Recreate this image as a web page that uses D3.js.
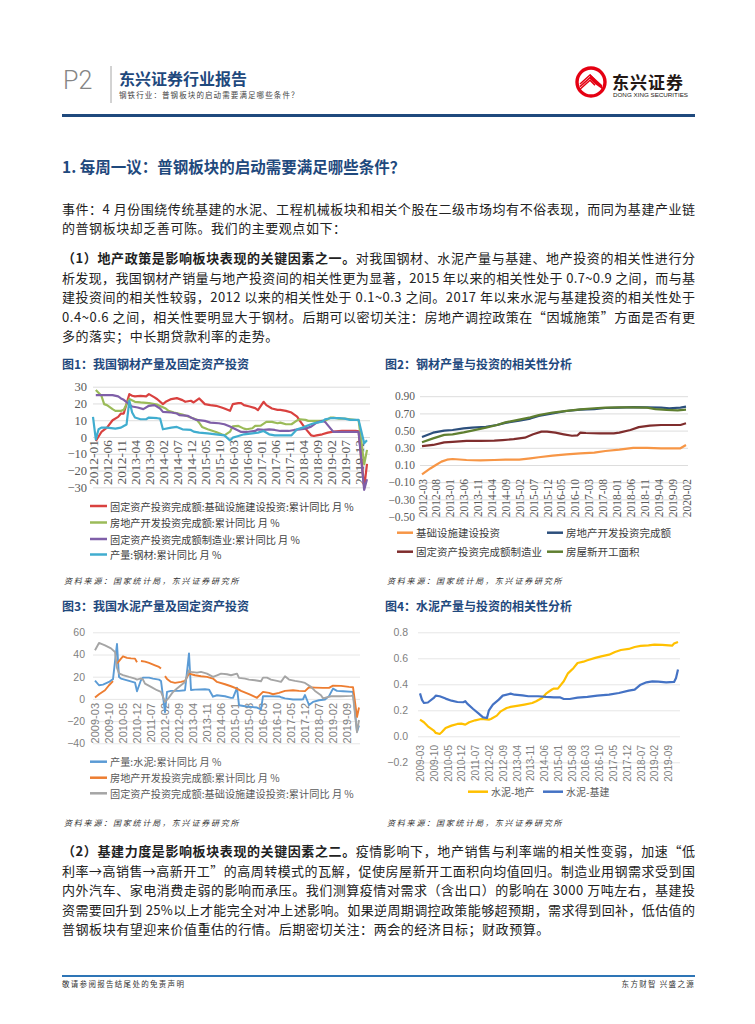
<!DOCTYPE html>
<html>
<head>
<meta charset="utf-8">
<script src="https://cdnjs.cloudflare.com/ajax/libs/d3/7.8.5/d3.min.js"></script>
<style>
  body { margin: 0; background: #fff; }
  svg { display: block; }
</style>
</head>
<body>
<svg id="page" width="755" height="1024"></svg>
<script>
// ---------- data ----------
const ticks1 = ["2012-01","2012-06","2012-11","2013-04","2013-09","2014-02","2014-07","2014-12","2015-05","2015-10","2016-03","2016-08","2017-01","2017-06","2017-11","2018-04","2018-09","2019-02","2019-07","2019-12"];
const ticks2 = ["2012-03","2012-08","2013-01","2013-06","2013-11","2014-04","2014-09","2015-02","2015-07","2015-12","2016-05","2016-10","2017-03","2017-08","2018-01","2018-06","2018-11","2019-04","2019-09","2020-02"];
const ticks3 = ["2009-03","2009-10","2010-05","2010-12","2011-07","2012-02","2012-09","2013-04","2013-11","2014-06","2015-01","2015-08","2016-03","2016-10","2017-05","2017-12","2018-07","2019-02","2019-09"];
const ticks4 = ticks3;

// 图1
const c1Infra = [["2012-02",-2.4],["2012-04",3],["2012-06",5.6],["2012-08",10],["2012-10",12],["2012-11",14],["2012-12",14],
  ["2013-02",25.6],["2013-03",24.6],["2013-04",24.2],["2013-06",24.5],["2013-08",24.2],["2013-09",25.6],["2013-11",23.6],["2013-12",22.5],
  ["2014-02",19.6],["2014-03",21],["2014-05",22.6],["2014-07",23.2],["2014-09",22],["2014-10",21],["2014-12",21.6],
  ["2015-01",20.6],["2015-03",23],["2015-05",19.6],["2015-07",19],["2015-09",18.6],["2015-11",17.6],["2015-12",17],
  ["2016-02",15.6],["2016-03",19.6],["2016-05",20.2],["2016-06",20.2],["2016-07",19],["2016-09",18.2],["2016-11",17.2],["2016-12",16],
  ["2017-02",21],["2017-03",19],["2017-05",17],["2017-07",16.2],["2017-08",16.2],["2017-10",15.6],["2017-12",14.6],
  ["2018-02",12.2],["2018-03",9.6],["2018-05",5],["2018-07",1],["2018-08",0.6],["2018-09",1],["2018-11",1.6],
  ["2019-01",2.6],["2019-03",3.2],["2019-06",3.6],["2019-08",3.6],["2019-11",3.6],["2019-12",3.4],
  ["2020-02",-30],["2020-03",-16]];
const c1Estate = [["2012-02",28],["2012-04",24.6],["2012-05",19.6],["2012-06",19],["2012-08",16.6],["2012-09",15.6],["2012-11",15.6],["2012-12",16.2],
  ["2013-02",22.6],["2013-04",21],["2013-06",20.6],["2013-09",20.2],["2013-11",19.6],["2013-12",19.3],
  ["2014-03",17],["2014-04",15.6],["2014-06",14.6],["2014-09",13.4],["2014-11",12.2],
  ["2015-01",11],["2015-02",10.4],["2015-03",8.5],["2015-04",6],["2015-06",4.6],["2015-09",3],["2015-11",1.6],["2015-12",1],
  ["2016-02",3.2],["2016-03",6.4],["2016-05",6.6],["2016-07",5],["2016-08",4.6],["2016-10",5.2],["2016-11",6.6],
  ["2017-01",6.8],["2017-03",9],["2017-05",9],["2017-07",8.2],["2017-08",8.6],["2017-10",7.6],["2017-12",7.6],
  ["2018-02",9.9],["2018-03",10.6],["2018-05",10.2],["2018-06",9.6],["2018-08",9.6],["2018-10",9.6],["2018-12",9.6],
  ["2019-02",11.6],["2019-03",11.6],["2019-05",11],["2019-07",11],["2019-09",10.6],["2019-12",10],
  ["2020-02",-16.3],["2020-03",-7.7]];
const c1Mfg = [["2012-02",25],["2012-05",25],["2012-08",25],["2012-10",24.2],["2012-11",23],["2012-12",22.2],
  ["2013-03",18.2],["2013-05",17.6],["2013-07",16.6],["2013-09",18.6],["2013-11",19],["2014-01",17],["2014-02",15],
  ["2014-05",14.6],["2014-07",14],["2014-08",13],["2014-11",12.6],["2014-12",11.6],
  ["2015-02",10.2],["2015-05",9.6],["2015-07",8.6],["2015-10",8.2],["2015-12",7.6],
  ["2016-02",6.2],["2016-04",4.6],["2016-06",3],["2016-08",3],["2016-11",3.6],["2016-12",4.6],
  ["2017-02",4.2],["2017-04",4.6],["2017-06",4.2],["2017-08",3.6],["2017-11",3.6],
  ["2018-01",4.2],["2018-03",4.6],["2018-05",5],["2018-07",6.2],["2018-09",8.6],["2018-11",9.6],["2018-12",9],
  ["2019-02",5],["2019-03",3],["2019-06",3],["2019-08",3],["2019-11",3],["2019-12",3.1],
  ["2020-02",-31.5],["2020-03",-25.2]];
const c1Steel = [["2012-01",12],["2012-02",-1.4],["2012-03",4.6],["2012-04",5.6],["2012-06",5.6],["2012-09",5],["2012-11",5.6],["2012-12",6.6],
  ["2013-01",7.5],["2013-02",21.6],["2013-03",14.6],["2013-04",11.6],["2013-06",10.6],["2013-08",10.6],["2013-09",11.6],["2013-12",11.2],
  ["2014-01",11],["2014-02",4.6],["2014-05",5.6],["2014-07",6],["2014-09",4.6],["2014-12",4.2],
  ["2015-01",3.2],["2015-03",2.6],["2015-06",2.2],["2015-09",1.6],["2015-12",1],
  ["2016-02",-2],["2016-03",-0.4],["2016-05",0.6],["2016-07",1.6],["2016-10",2.2],["2016-12",2.6],
  ["2017-02",3.6],["2017-04",1.6],["2017-06",1],["2017-10",1],["2017-12",1],
  ["2018-02",4.6],["2018-04",5.6],["2018-06",7],["2018-08",8.2],["2018-11",9.2],["2018-12",10.6],
  ["2019-02",11.2],["2019-05",11.2],["2019-07",11],["2019-09",10.2],["2019-12",10.2],
  ["2020-02",-3.8],["2020-03",-2]];

// 图2
const c2Infra = [["2012-03",-0.01],["2012-06",0.06],["2012-08",0.1],["2012-10",0.139],["2012-12",0.162],["2013-02",0.17],["2013-07",0.158],
  ["2013-12",0.154],["2014-05",0.158],["2014-09",0.162],["2015-02",0.162],["2015-06",0.178],["2015-09",0.19],["2016-02",0.208],
  ["2016-07",0.224],["2016-12",0.236],["2017-05",0.243],["2017-09",0.263],["2018-02",0.278],["2018-07",0.3],["2018-12",0.3],
  ["2019-05",0.294],["2019-09",0.294],["2019-12",0.294],["2020-02",0.333]];
const c2Estate = [["2012-03",0.425],["2012-07",0.476],["2012-11",0.5],["2013-02",0.507],["2013-06",0.526],["2013-09",0.534],["2014-02",0.545],
  ["2014-06",0.565],["2014-09",0.59],["2015-02",0.615],["2015-06",0.64],["2015-09",0.67],["2016-02",0.7],["2016-07",0.728],
  ["2016-12",0.743],["2017-05",0.75],["2017-09",0.763],["2018-02",0.767],["2018-07",0.774],["2018-12",0.77],["2019-05",0.767],
  ["2019-08",0.76],["2019-12",0.767],["2020-02",0.778]];
const c2Mfg = [["2012-03",0.32],["2012-07",0.333],["2012-11",0.363],["2013-02",0.37],["2013-07",0.38],["2013-12",0.38],["2014-05",0.383],
  ["2014-08",0.39],["2014-12",0.4],["2015-04",0.418],["2015-07",0.457],["2015-10",0.488],["2015-12",0.488],["2016-03",0.476],
  ["2016-06",0.457],["2016-09",0.44],["2016-11",0.445],["2016-12",0.476],["2017-02",0.472],["2017-07",0.468],["2017-12",0.468],
  ["2018-02",0.476],["2018-06",0.507],["2018-09",0.54],["2019-01",0.557],["2019-05",0.565],["2019-09",0.565],["2019-12",0.565],["2020-02",0.585]];
const c2Starts = [["2012-03",0.365],["2012-07",0.41],["2012-11",0.45],["2013-02",0.457],["2013-06",0.48],["2013-09",0.5],["2014-02",0.534],
  ["2014-06",0.565],["2014-09",0.596],["2015-02",0.627],["2015-06",0.654],["2015-09",0.68],["2016-02",0.71],["2016-07",0.73],
  ["2016-12",0.747],["2017-05",0.76],["2017-09",0.767],["2018-02",0.77],["2018-07",0.77],["2018-12",0.767],["2019-03",0.75],
  ["2019-07",0.74],["2019-11",0.736],["2020-02",0.743]];

// 图3
const c3Cement = [["2009-03",16.5],["2009-05",12.3],["2009-07",12.9],["2009-10",15.3],["2009-12",17.8],["2010-02",49.5],["2010-03",19.8],
  ["2010-04",18.3],["2010-08",16.2],["2010-11",14.7],["2010-12",6.9],["2011-02",17],["2011-03",19.2],["2011-06",19.2],["2011-08",18.3],
  ["2011-11",17.4],["2011-12",16.2],["2012-02",-12],["2012-03",6.3],["2012-05",7.2],["2012-09",7.2],["2012-12",7.8],["2013-02",41],
  ["2013-03",8],["2013-05",8.4],["2013-10",8.7],["2013-12",8.4],["2014-02",2],["2014-04",3.3],["2014-08",2.4],["2014-11",0.9],
  ["2014-12",0.9],["2015-02",10],["2015-03",-5.7],["2015-06",-6.6],["2015-09",-7.2],["2015-12",-7.8],["2016-02",-9.5],["2016-03",2.5],
  ["2016-05",2.4],["2016-08",2.3],["2016-11",2.2],["2016-12",1.5],["2017-02",0.5],["2017-06",-0.5],["2017-10",-0.5],["2017-11",-0.3],
  ["2017-12",3.5],["2018-02",-5.5],["2018-04",-2.7],["2018-07",-1.2],["2018-10",-0.6],["2018-12",2.5],["2019-02",9.3],["2019-04",7.2],
  ["2019-07",6.9],["2019-12",6.3],["2020-02",-29.5],["2020-03",-24]];
const c3Estate = [["2009-03",1.2],["2009-05",4.2],["2009-08",7.8],["2009-10",12.3],["2009-12",16],["2010-01",null],["2010-02",31.8],
  ["2010-04",36.3],["2010-05",38.4],["2010-07",37],["2010-09",36.5],["2010-11",36.3],["2010-12",33],["2011-01",null],["2011-02",34.2],
  ["2011-04",33.6],["2011-06",32.4],["2011-09",30.3],["2011-11",28.8],["2011-12",27.3],["2012-01",null],["2012-02",20.5],["2012-03",18],
  ["2012-05",15.3],["2012-07",14.4],["2012-10",15.3],["2012-12",16.2],["2013-02",22.8],["2013-05",21.3],["2013-08",20.4],["2013-11",19.8],
  ["2014-02",18.3],["2014-04",15.3],["2014-08",13.2],["2014-11",11.4],["2015-02",9.3],["2015-04",7.2],["2015-08",4.2],["2015-11",1.8],
  ["2015-12",1],["2016-03",6.3],["2016-06",5.4],["2016-08",4.2],["2016-11",5.4],["2017-02",7.2],["2017-06",7.8],["2017-09",7.2],
  ["2017-12",7],["2018-02",10.5],["2018-05",10.2],["2018-09",9.9],["2018-12",9.9],["2019-02",12],["2019-06",11.7],["2019-10",10.8],
  ["2019-12",10.5],["2020-02",-16.3],["2020-03",-7.8]];
const c3Infra = [["2009-03",43.8],["2009-05",50.4],["2009-08",48.3],["2009-11",45.5],["2010-01",42.3],["2010-02",28],["2010-03",23],
  ["2010-05",21.5],["2010-08",19.8],["2010-11",18.3],["2010-12",17.4],["2011-02",18.5],["2011-03",17.4],["2011-04",13.8],["2011-07",10.8],
  ["2011-10",7.8],["2011-12",6.3],["2012-02",-2.7],["2012-04",1.2],["2012-06",6.3],["2012-08",9.3],["2012-10",12.3],["2012-12",15.3],
  ["2013-02",25.8],["2013-03",24.3],["2013-06",23.7],["2013-08",24.3],["2013-11",22.8],["2014-02",19.8],["2014-04",21.3],["2014-06",22.8],
  ["2014-09",22.2],["2014-11",21.3],["2015-02",22.8],["2015-03",18.9],["2015-06",18.3],["2015-08",17.4],["2015-11",16.8],["2016-02",15.9],
  ["2016-03",19.2],["2016-05",19.2],["2016-07",17.4],["2016-10",16.2],["2016-12",15.3],["2017-02",20.4],["2017-04",17.4],["2017-07",16.2],
  ["2017-10",15.3],["2017-12",14.4],["2018-03",10.8],["2018-05",7.2],["2018-08",3.3],["2018-09",0.5],["2019-01",2.4],["2019-06",2.4],
  ["2019-11",2.7],["2019-12",3],["2020-02",-30],["2020-03",-19]];

// 图4
const c4Estate = [["2009-03",0.128],["2009-05",0.108],["2009-07",0.077],["2009-10",0.044],["2009-11",0.026],["2010-01",0.018],["2010-02",0.031],
  ["2010-04",0.064],["2010-07",0.082],["2010-10",0.095],["2010-12",0.097],["2011-02",0.09],["2011-04",0.108],["2011-07",0.123],["2011-10",0.133],
  ["2012-02",0.128],["2012-03",0.133],["2012-06",0.159],["2012-08",0.192],["2012-11",0.218],["2013-01",0.226],["2013-05",0.236],["2013-08",0.244],
  ["2013-12",0.256],["2014-02",0.27],["2014-05",0.295],["2014-07",0.328],["2014-10",0.36],["2014-11",0.367],["2015-01",0.367],["2015-04",0.423],
  ["2015-06",0.482],["2015-09",0.526],["2015-11",0.564],["2016-02",0.574],["2016-04",0.585],["2016-08",0.603],["2016-11",0.615],["2017-03",0.628],
  ["2017-06",0.649],["2017-09",0.664],["2018-01",0.672],["2018-04",0.687],["2018-07",0.695],["2018-11",0.7],["2019-02",0.705],["2019-06",0.703],
  ["2019-11",0.697],["2019-12",0.713],["2020-02",0.726]];
const c4Infra = [["2009-03",0.33],["2009-04",0.28],["2009-05",0.256],["2009-07",0.26],["2009-10",0.295],["2009-11",0.313],["2010-01",0.308],
  ["2010-04",0.29],["2010-07",0.274],["2010-10",0.264],["2011-01",0.262],["2011-02",0.27],["2011-03",0.251],["2011-06",0.21],["2011-09",0.172],
  ["2011-11",0.146],["2012-01",0.141],["2012-02",0.2],["2012-04",0.244],["2012-07",0.282],["2012-09",0.313],["2013-01",0.328],["2013-03",0.32],
  ["2013-07",0.315],["2013-10",0.308],["2014-03",0.308],["2014-07",0.303],["2014-11",0.3],["2015-02",0.3],["2015-04",0.287],["2015-07",0.287],
  ["2015-11",0.297],["2016-04",0.303],["2016-09",0.313],["2017-03",0.32],["2017-08",0.333],["2018-01",0.351],["2018-04",0.359],["2018-07",0.397],
  ["2018-10",0.415],["2019-01",0.423],["2019-04",0.42],["2019-08",0.415],["2019-12",0.418],["2020-01",0.449],["2020-02",0.513]];

// ---------- page ----------
const svg = d3.select('#page');
const CJK = '"Noto Sans CJK SC", "Noto Sans", sans-serif';
const NAVY = '#1F497D';

function monthSeq(a, b) {
  const out = [];
  let [y, m] = a.split('-').map(Number);
  const [y2, m2] = b.split('-').map(Number);
  while (y < y2 || (y === y2 && m <= m2)) {
    out.push(y + '-' + String(m).padStart(2, '0'));
    m++;
    if (m > 12) { m = 1; y++; }
  }
  return out;
}

function txt(x, y, s, o = {}) {
  return svg.append('text')
    .attr('x', x).attr('y', y)
    .attr('dominant-baseline', 'central')
    .attr('font-family', o.font || CJK)
    .attr('font-size', o.size || 13)
    .attr('font-weight', o.weight || 400)
    .attr('fill', o.fill || '#222')
    .attr('text-anchor', o.anchor || 'start')
    .attr('letter-spacing', o.ls || 0)
    .attr('font-style', o.style || 'normal')
    .text(s);
}

// header
txt(63, 80, 'P2', { font: 'Roboto, "Liberation Sans"', size: 25, weight: 300, fill: '#858585' });
svg.append('line').attr('x1', 111).attr('x2', 111).attr('y1', 66).attr('y2', 103).attr('stroke', '#a6a6a6');
txt(119, 78, '东兴证券行业报告', { size: 16, weight: 700, fill: NAVY });
txt(119, 94, '钢铁行业：普钢板块的启动需要满足哪些条件？', { size: 7.5, fill: '#444', ls: 1.1 });

// logo
const logo = svg.append('g').attr('transform', 'translate(591,82)');
logo.append('circle').attr('r', 14).attr('fill', '#fff').attr('stroke', '#E50012').attr('stroke-width', 3.4);
[0, 2.6, 5.2].forEach(k => {
  logo.append('path').attr('d', `M-11,${2 + k} L-1,${-7 + k} L4,${-2 + k}`)
    .attr('fill', 'none').attr('stroke', '#E50012').attr('stroke-width', 1.5);
});
logo.append('path').attr('d', 'M-1,-8 L11,3 L11,7 L4,2 L-1,-3 Z').attr('fill', '#E50012');
txt(612, 81, '东兴证券', { size: 17, weight: 700, fill: '#231815', ls: 1 });
txt(613, 95, 'DONG XING SECURITIES', { font: '"Liberation Sans"', size: 5.5, fill: '#231815' })
  .attr('textLength', 75).attr('lengthAdjust', 'spacingAndGlyphs');
svg.append('rect').attr('x', 62).attr('y', 114).attr('width', 633).attr('height', 3).attr('fill', NAVY);

// headline
txt(62, 166, '1. 每周一议：普钢板块的启动需要满足哪些条件？', { size: 15.5, weight: 700, fill: NAVY });

// body text
function bodyLine(y, segs, full) {
  const t = svg.append('text').attr('x', 62).attr('y', y)
    .attr('dominant-baseline', 'central').attr('font-family', CJK)
    .attr('font-size', 13).attr('fill', '#222');
  segs.forEach(s => t.append('tspan').attr('font-weight', s[1] ? 700 : 400).text(s[0]));
  if (full) t.attr('textLength', 633).attr('lengthAdjust', 'spacing');
  else t.attr('letter-spacing', 0.55);
}
bodyLine(207.5, [['事件：4 月份围绕传统基建的水泥、工程机械板块和相关个股在二级市场均有不俗表现，而同为基建产业链']], true);
bodyLine(227, [['的普钢板块却乏善可陈。我们的主要观点如下：']], false);
bodyLine(257, [['（1）地产政策是影响板块表现的关键因素之一。', 1], ['对我国钢材、水泥产量与基建、地产投资的相关性进行分']], true);
bodyLine(276.5, [['析发现，我国钢材产销量与地产投资间的相关性更为显著，2015 年以来的相关性处于 0.7~0.9 之间，而与基']], true);
bodyLine(296, [['建投资间的相关性较弱，2012 以来的相关性处于 0.1~0.3 之间。2017 年以来水泥与基建投资的相关性处于']], true);
bodyLine(315.5, [['0.4~0.6 之间，相关性要明显大于钢材。后期可以密切关注：房地产调控政策在“因城施策”方面是否有更']], true);
bodyLine(335, [['多的落实；中长期贷款利率的走势。']], false);
bodyLine(850, [['（2）基建力度是影响板块表现的关键因素之二。', 1], ['疫情影响下，地产销售与利率端的相关性变弱，加速“低']], true);
bodyLine(869.5, [['利率→高销售→高新开工”的高周转模式的瓦解，促使房屋新开工面积向均值回归。制造业用钢需求受到国']], true);
bodyLine(889, [['内外汽车、家电消费走弱的影响而承压。我们测算疫情对需求（含出口）的影响在 3000 万吨左右，基建投']], true);
bodyLine(908.5, [['资需要回升到 25%以上才能完全对冲上述影响。如果逆周期调控政策能够超预期，需求得到回补，低估值的']], true);
bodyLine(928, [['普钢板块有望迎来价值重估的行情。后期密切关注：两会的经济目标；财政预算。']], false);

// footer
svg.append('rect').attr('x', 62).attr('y', 975).attr('width', 633).attr('height', 2).attr('fill', '#2E75B6');
txt(62, 983, '敬请参阅报告结尾处的免责声明', { size: 7.5, fill: '#333', ls: 1.3 });
txt(695, 983, '东方财智 兴盛之源', { size: 7.5, fill: '#333', ls: 1.3, anchor: 'end' });

// ---------- charts ----------
function drawChart(c) {
  const x = d3.scalePoint().domain(c.months).range(c.xr);
  const y = d3.scaleLinear().domain(c.yd).range(c.yr);
  const g = svg.append('g');

  const grid = g.append('g').attr('transform', `translate(${c.gx[0]},0)`)
    .call(d3.axisLeft(y).tickValues(c.yt).tickSize(-(c.gx[1] - c.gx[0])).tickPadding(c.ypad).tickFormat(c.yf));
  grid.select('.domain').remove();
  grid.selectAll('line').attr('stroke', c.gridColor).attr('stroke-width', 0.9);
  grid.selectAll('text').attr('fill', c.tickColor).attr('font-family', c.tickFont).attr('font-size', c.ySize);

  const xa = g.append('g').attr('transform', `translate(0,${c.xaxisY})`)
    .call(d3.axisBottom(x).tickValues(c.xt).tickSize(0));
  xa.select('.domain').remove();
  xa.selectAll('text')
    .attr('transform', 'rotate(-90)').attr('text-anchor', 'end')
    .attr('x', 0).attr('y', 0).attr('dy', '0.35em')
    .attr('fill', c.tickColor).attr('font-family', c.tickFont).attr('font-size', c.xSize);

  const line = d3.line().defined(d => d[1] != null).x(d => x(d[0])).y(d => y(d[1]));
  c.series.forEach(s => {
    g.append('path').datum(s.data)
      .attr('fill', 'none').attr('stroke', s.color).attr('stroke-width', c.lw)
      .attr('stroke-linejoin', 'round').attr('d', line);
  });

  c.series.forEach(s => {
    g.append('line').attr('x1', s.lx).attr('x2', s.lx + c.legLen).attr('y1', s.ly).attr('y2', s.ly)
      .attr('stroke', s.color).attr('stroke-width', 2.5);
    g.append('text').attr('x', s.lx + c.legLen + 3).attr('y', s.ly)
      .attr('dominant-baseline', 'central').attr('font-family', CJK)
      .attr('font-size', c.legSize).attr('fill', c.legColor).text(s.name);
  });
}

const minusFmt = f => d => (d < 0 ? '\u2212' : '') + f(Math.abs(d));

// 图1
txt(62, 363, '图1：我国钢材产量及固定资产投资', { size: 12, weight: 700, fill: NAVY });
drawChart({
  months: monthSeq('2012-01', '2020-03'), xr: [93, 367],
  yd: [-30, 30], yr: [487.3, 386.7], yt: [-30, -20, -10, 0, 10, 20, 30], yf: minusFmt(d3.format('d')),
  gx: [93, 370], ypad: 6, xaxisY: 440, xt: ticks1,
  gridColor: '#d9d9d9', tickColor: '#595959', tickFont: '"Liberation Serif", serif', ySize: 12.5, xSize: 13.5,
  lw: 2.2, legLen: 17, legSize: 10.2, legColor: '#404040',
  series: [
    { name: '固定资产投资完成额:基础设施建设投资:累计同比 月 %', data: c1Infra, color: '#D9413F', lx: 90, ly: 506 },
    { name: '房地产开发投资完成额:累计同比 月 %', data: c1Estate, color: '#9BBB59', lx: 90, ly: 522.5 },
    { name: '固定资产投资完成额制造业:累计同比 月 %', data: c1Mfg, color: '#7F5FA8', lx: 90, ly: 539 },
    { name: '产量:钢材:累计同比 月 %', data: c1Steel, color: '#40ADCF', lx: 90, ly: 554.5 }
  ]
});
txt(64, 580, '资料来源：国家统计局，东兴证券研究所', { size: 8, fill: '#333', ls: 1.8, style: 'italic' });

// 图2
txt(385, 363, '图2：钢材产量与投资的相关性分析', { size: 12, weight: 700, fill: NAVY });
drawChart({
  months: monthSeq('2012-03', '2020-02'), xr: [422, 686],
  yd: [-0.5, 0.9], yr: [516.6, 396.2], yt: [-0.5, -0.3, -0.1, 0.1, 0.3, 0.5, 0.7, 0.9], yf: minusFmt(d3.format('.2f')),
  gx: [420, 688], ypad: 5, xaxisY: 479, xt: ticks2,
  gridColor: '#d9d9d9', tickColor: '#595959', tickFont: '"Liberation Serif", serif', ySize: 11.5, xSize: 11.5,
  lw: 2.2, legLen: 16, legSize: 10.5, legColor: '#404040',
  series: [
    { name: '基础设施建设投资', data: c2Infra, color: '#F79646', lx: 397, ly: 532.7 },
    { name: '房地产开发投资完成额', data: c2Estate, color: '#2C4F7C', lx: 547, ly: 532.7 },
    { name: '固定资产投资完成额制造业', data: c2Mfg, color: '#7F2D2D', lx: 397, ly: 551.7 },
    { name: '房屋新开工面积', data: c2Starts, color: '#5F7F30', lx: 547, ly: 551.7 }
  ]
});
txt(387, 580, '资料来源：国家统计局，东兴证券研究所', { size: 8, fill: '#333', ls: 1.8, style: 'italic' });

// 图3
txt(62, 605, '图3：我国水泥产量及固定资产投资', { size: 12, weight: 700, fill: NAVY });
drawChart({
  months: monthSeq('2009-03', '2020-03'), xr: [95, 359],
  yd: [-40, 60], yr: [743.3, 632.3], yt: [-40, -20, 0, 20, 40, 60], yf: minusFmt(d3.format('d')),
  gx: [93, 360], ypad: 8, xaxisY: 703, xt: ticks3,
  gridColor: '#e3e3e3', tickColor: '#7f7f7f', tickFont: '"Liberation Sans", Arial, sans-serif', ySize: 10.5, xSize: 11,
  lw: 1.9, legLen: 17, legSize: 10.2, legColor: '#595959',
  series: [
    { name: '产量:水泥:累计同比 月 %', data: c3Cement, color: '#5B9BD5', lx: 90, ly: 761.7 },
    { name: '房地产开发投资完成额:累计同比 月 %', data: c3Estate, color: '#ED7D31', lx: 90, ly: 777.7 },
    { name: '固定资产投资完成额:基础设施建设投资:累计同比 月 %', data: c3Infra, color: '#A5A5A5', lx: 90, ly: 793.3 }
  ]
});
txt(64, 822, '资料来源：国家统计局，东兴证券研究所', { size: 8, fill: '#333', ls: 1.8, style: 'italic' });

// 图4
txt(385, 605, '图4：水泥产量与投资的相关性分析', { size: 12, weight: 700, fill: NAVY });
drawChart({
  months: monthSeq('2009-03', '2020-02'), xr: [420, 678],
  yd: [-0.2, 0.8], yr: [762.3, 632.3], yt: [-0.2, 0, 0.2, 0.4, 0.6, 0.8], yf: minusFmt(d3.format('.1f')),
  gx: [418, 680], ypad: 10, xaxisY: 745, xt: ticks4,
  gridColor: '#e3e3e3', tickColor: '#7f7f7f', tickFont: '"Liberation Sans", Arial, sans-serif', ySize: 10.5, xSize: 10,
  lw: 2.2, legLen: 20, legSize: 10, legColor: '#595959',
  series: [
    { name: '水泥-地产', data: c4Estate, color: '#FFC000', lx: 468, ly: 791.7 },
    { name: '水泥-基建', data: c4Infra, color: '#4472C4', lx: 543, ly: 791.7 }
  ]
});
txt(387, 822, '资料来源：国家统计局，东兴证券研究所', { size: 8, fill: '#333', ls: 1.8, style: 'italic' });
</script>
</body>
</html>
